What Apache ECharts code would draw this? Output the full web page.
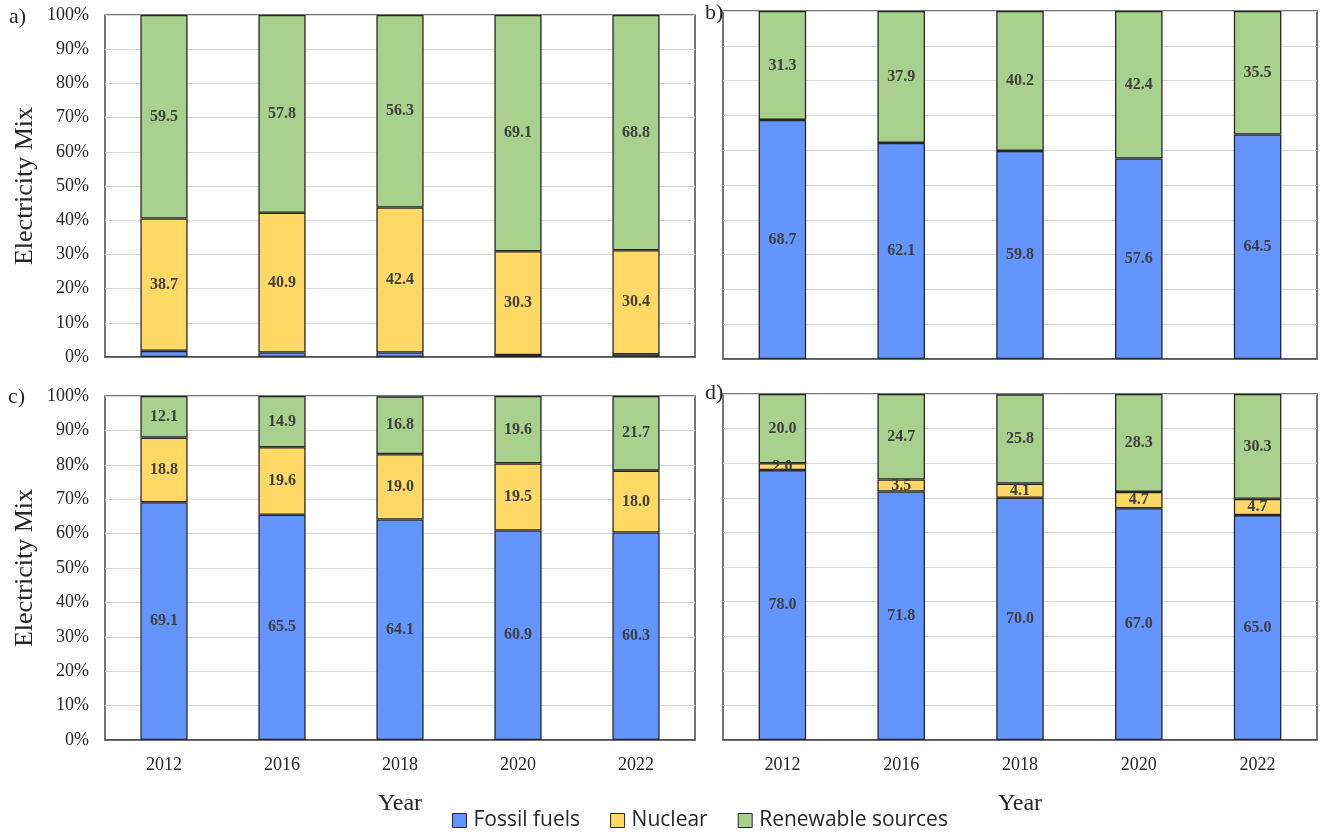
<!DOCTYPE html>
<html>
<head>
<meta charset="utf-8">
<script src="https://cdn.jsdelivr.net/npm/echarts@6/dist/echarts.min.js"></script>
<style>
  html, body { margin: 0; padding: 0; background: #fff; }
  #chart { width: 1327px; height: 833px; }
</style>
</head>
<body>
<div id="chart"></div>
<script>
// Electricity mix by year, four regions (a–d), shares in percent
const years = ['2012', '2016', '2018', '2020', '2022'];
const yTicks = [0, 10, 20, 30, 40, 50, 60, 70, 80, 90, 100];

const aFossil = [1.8, 1.3, 1.3, 0.6, 0.8];
const aNuclear = [38.7, 40.9, 42.4, 30.3, 30.4];
const aRenew = [59.5, 57.8, 56.3, 69.1, 68.8];

const bFossil = [68.7, 62.1, 59.8, 57.6, 64.5];
const bRenew = [31.3, 37.9, 40.2, 42.4, 35.5];

const cFossil = [69.1, 65.5, 64.1, 60.9, 60.3];
const cNuclear = [18.8, 19.6, 19.0, 19.5, 18.0];
const cRenew = [12.1, 14.9, 16.8, 19.6, 21.7];

const dFossil = [78.0, 71.8, 70.0, 67.0, 65.0];
const dNuclear = [2.0, 3.5, 4.1, 4.7, 4.7];
const dRenew = [20.0, 24.7, 25.8, 28.3, 30.3];

const COLORS = { fossil: '#6495FF', nuclear: '#FFD966', renew: '#A9D18E' };
const SERIF = '"Liberation Serif", "Times New Roman", serif';

const grids = [
  { left: 105, top: 15, width: 590, height: 342 },
  { left: 723, top: 11, width: 594, height: 348 },
  { left: 105, top: 396, width: 590, height: 344 },
  { left: 723, top: 394, width: 594, height: 346 }
].map(g => Object.assign({ show: true, borderColor: '#4a4a4a', borderWidth: 1.5, backgroundColor: 'transparent' }, g));

const xAxes = [0, 1, 2, 3].map(i => ({
  type: 'category',
  gridIndex: i,
  data: years,
  axisTick: { show: false },
  axisLine: { show: true, lineStyle: { color: '#4a4a4a', width: 1.5 } },
  axisLabel: { show: i >= 2, fontFamily: SERIF, fontSize: 18, color: '#262626', margin: 16 },
  name: i >= 2 ? 'Year' : '',
  nameLocation: 'middle',
  nameGap: 52,
  nameTextStyle: { fontFamily: SERIF, fontSize: 24, color: '#262626' }
}));

const yAxes = [0, 1, 2, 3].map(i => ({
  type: 'value',
  gridIndex: i,
  min: yTicks[0],
  max: yTicks[yTicks.length - 1],
  interval: yTicks[1] - yTicks[0],
  axisLine: { show: false },
  axisTick: { show: false },
  splitLine: { show: true, lineStyle: { color: '#d9d9d9', width: 1.2 } },
  axisLabel: { show: i % 2 === 0, formatter: '{value}%', fontFamily: SERIF, fontSize: 18, color: '#262626', margin: 16 },
  name: i % 2 === 0 ? 'Electricity Mix' : '',
  nameLocation: 'middle',
  nameGap: 67,
  nameTextStyle: { fontFamily: SERIF, fontSize: 26, color: '#262626' }
}));

function bar(name, data, idx, color, showLabel) {
  return {
    name: name,
    type: 'bar',
    stack: 'panel' + idx,
    xAxisIndex: idx,
    yAxisIndex: idx,
    barWidth: '40%',
    data: data,
    itemStyle: { color: color, borderColor: '#262626', borderWidth: 1.3 },
    label: {
      show: showLabel,
      position: 'inside',
      formatter: p => p.value.toFixed(1),
      fontFamily: SERIF,
      fontWeight: 'bold',
      fontSize: 16,
      color: '#3f3f3f'
    },
    emphasis: { disabled: true }
  };
}

const series = [
  bar('Fossil fuels', aFossil, 0, COLORS.fossil, false),
  bar('Nuclear', aNuclear, 0, COLORS.nuclear, true),
  bar('Renewable sources', aRenew, 0, COLORS.renew, true),
  bar('Fossil fuels', bFossil, 1, COLORS.fossil, true),
  bar('Renewable sources', bRenew, 1, COLORS.renew, true),
  bar('Fossil fuels', cFossil, 2, COLORS.fossil, true),
  bar('Nuclear', cNuclear, 2, COLORS.nuclear, true),
  bar('Renewable sources', cRenew, 2, COLORS.renew, true),
  bar('Fossil fuels', dFossil, 3, COLORS.fossil, true),
  bar('Nuclear', dNuclear, 3, COLORS.nuclear, true),
  bar('Renewable sources', dRenew, 3, COLORS.renew, true)
];

const panelTag = (text, x, y) => ({
  type: 'text', left: x, top: y,
  style: { text: text, font: '22px ' + SERIF, fill: '#262626' }
});

const chart = echarts.init(document.getElementById('chart'), null, { renderer: 'canvas' });
chart.setOption({
  animation: false,
  backgroundColor: '#ffffff',
  grid: grids,
  xAxis: xAxes,
  yAxis: yAxes,
  series: series,
  legend: {
    data: ['Fossil fuels', 'Nuclear', 'Renewable sources'],
    left: 447,
    top: 805,
    itemWidth: 14,
    itemHeight: 14,
    itemGap: 30,
    icon: 'rect',
    itemStyle: { borderColor: '#262626', borderWidth: 1 },
    textStyle: { fontFamily: '"Open Sans", sans-serif', fontSize: 21, color: '#262626', padding: [0, 0, 0, 2] },
    selectedMode: false
  },
  graphic: [
    panelTag('a)', 9, 6),
    panelTag('b)', 705, 2),
    panelTag('c)', 8, 386),
    panelTag('d)', 705, 382)
  ]
});
</script>
</body>
</html>
